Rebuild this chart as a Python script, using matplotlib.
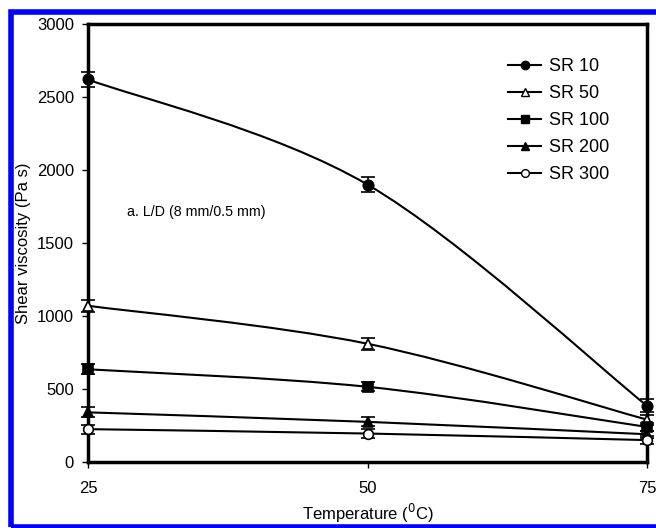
import matplotlib
matplotlib.use("Agg")
import matplotlib.pyplot as plt
from matplotlib.path import Path
from matplotlib.patches import PathPatch, Rectangle
import numpy as np

plt.rcParams['font.family'] = ['Liberation Sans', 'DejaVu Sans']

temps = [25, 50, 75]
labels = ["SR 10", "SR 50", "SR 100", "SR 200", "SR 300"]
sr10 = [2620, 1900, 385]
sr50 = [1070, 810, 290]
sr100 = [635, 515, 240]
sr200 = [340, 275, 190]
sr300 = [225, 195, 150]
err10 = [50, 50, 45]
err50 = [40, 40, 35]
err100 = [35, 30, 30]
err200 = [35, 30, 25]
err300 = [30, 30, 25]

series = [sr10, sr50, sr100, sr200, sr300]
errs = [err10, err50, err100, err200, err300]
markers = ['o', '^', 's', '^', 'o']
faces = ['black', 'white', 'black', 'black', 'white']
msizes = [7.5, 7, 7, 7, 7]

fig = plt.figure(figsize=(6.56, 5.28), dpi=100)
ax = fig.add_axes([88/656, 66/528, 559/656, 438/528])

def smooth_path(xs, ys):
    pts = np.column_stack([xs, ys]).astype(float)
    n = len(pts)
    verts = [pts[0]]
    codes = [Path.MOVETO]
    for i in range(n - 1):
        p0 = pts[i - 1] if i > 0 else pts[i]
        p1 = pts[i]
        p2 = pts[i + 1]
        p3 = pts[i + 2] if i + 2 < n else pts[i + 1]
        c1 = p1 + (p2 - p0) / 6.0
        c2 = p2 - (p3 - p1) / 6.0
        verts += [c1, c2, p2]
        codes += [Path.CURVE4] * 3
    return Path(verts, codes)

handles = []
for ys, e, m, fc, ms, lab in zip(series, errs, markers, faces, msizes, labels):
    ax.add_patch(PathPatch(smooth_path(temps, ys), fill=False, lw=1.5,
                           edgecolor='black', zorder=2))
    ax.errorbar(temps, ys, yerr=e, fmt='none', ecolor='black', elinewidth=1.2,
                capsize=5, capthick=1.2, zorder=3, clip_on=False)
    ax.plot(temps, ys, linestyle='none', marker=m, ms=ms, mfc=fc, mec='black',
            mew=1.2, zorder=4, clip_on=False)
    h, = ax.plot([], [], color='black', lw=1.5, marker=m, ms=ms * 0.8, mfc=fc,
                 mec='black', mew=1.0, label=lab)
    handles.append(h)

ax.set_xlim(25, 75)
ax.set_ylim(0, 3000)
ax.set_xticks([25, 50, 75])
ax.set_yticks(range(0, 3001, 500))
ax.tick_params(axis='both', labelsize=12, length=4, width=1, direction='out')
ax.tick_params(axis='y', pad=6)
ax.tick_params(axis='x', pad=10)
for s in ax.spines.values():
    s.set_linewidth(2.5)

ax.set_xlabel("Temperature ($^{0}$C)", fontsize=12, labelpad=4)
ax.set_ylabel("Shear viscosity (Pa s)", fontsize=12, labelpad=4)

ax.text(28.5, 1712, "a. L/D (8 mm/0.5 mm)", fontsize=10.3, va='center', ha='left')

leg = ax.legend(handles=handles, loc='upper left', bbox_to_anchor=(0.736, 0.943),
                frameon=False, fontsize=13, handlelength=1.8, handletextpad=0.45,
                labelspacing=0.56, borderpad=0)

fig.patches.append(Rectangle((10.5/656, 1.5/528), 700/656, 514.5/528, transform=fig.transFigure,
                             fill=False, edgecolor='#0000ff', lw=4, zorder=10))

fig.savefig("out.png", dpi=100)
